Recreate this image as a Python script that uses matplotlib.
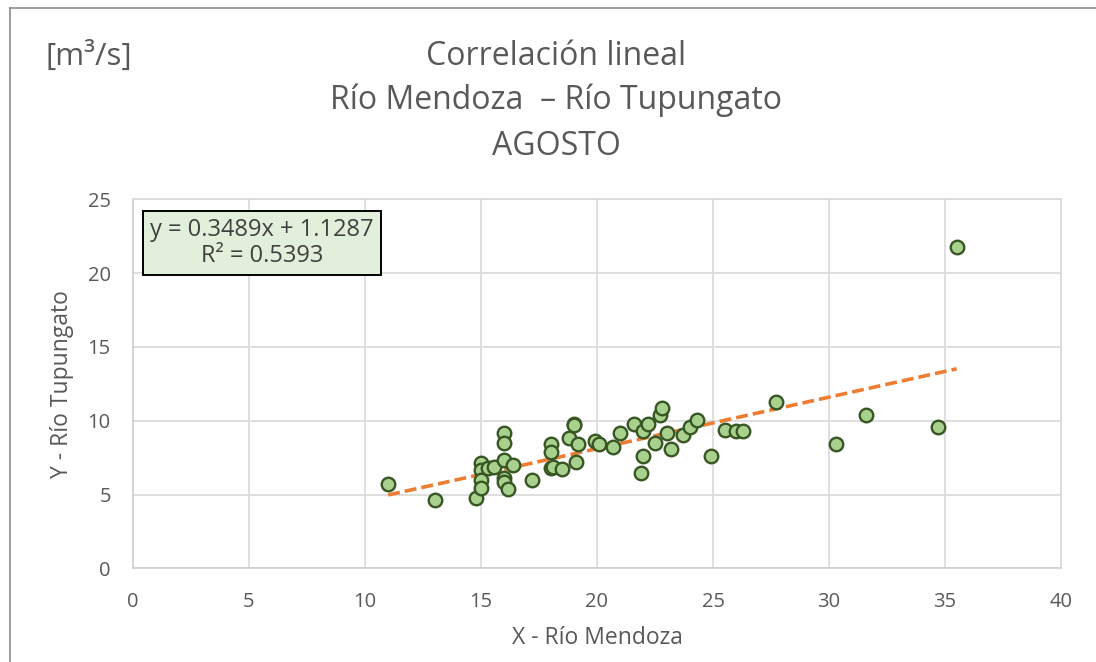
import matplotlib.pyplot as plt
from matplotlib.lines import Line2D

plt.rcParams['font.family'] = ['Open Sans', 'DejaVu Sans']

# caudales de agosto [m3/s]
x_mendoza = [11.0, 13.0, 14.8, 15.0, 15.0, 15.0, 15.0, 15.3, 15.55, 16.0,
             16.0, 16.0, 16.4, 16.0, 16.0, 16.15, 17.2, 18.0, 18.0, 18.0,
             18.1, 18.5, 18.8, 19.0, 19.0, 19.2, 19.1, 19.9, 20.1, 20.7,
             21.0, 21.6, 22.0, 22.2, 22.0, 21.9, 22.5, 22.7, 22.8, 23.0,
             23.2, 23.7, 24.0, 24.3, 24.9, 25.5, 26.0, 26.3, 27.7, 30.3,
             31.6, 34.7, 35.5]
y_tupungato = [5.7, 4.6, 4.75, 7.15, 6.65, 6.0, 5.45, 6.8, 6.85, 9.2,
               8.5, 7.35, 7.0, 6.15, 5.85, 5.35, 6.0, 8.45, 7.9, 6.8,
               6.85, 6.7, 8.8, 9.8, 9.7, 8.4, 7.2, 8.6, 8.45, 8.25,
               9.2, 9.8, 9.3, 9.8, 7.6, 6.45, 8.5, 10.4, 10.85, 9.15,
               8.1, 9.0, 9.55, 10.05, 7.6, 9.4, 9.3, 9.3, 11.3, 8.45,
               10.4, 9.6, 21.8]

# recta de ajuste
slope = 0.3489
intercept = 1.1287
r2 = 0.5393

x_ticks = [0, 5, 10, 15, 20, 25, 30, 35, 40]
y_ticks = [0, 5, 10, 15, 20, 25]

gray = '#595959'
grid = '#d9d9d9'

fig = plt.figure(figsize=(10.96, 6.62), dpi=100)
ax = fig.add_axes([133 / 1096, 1 - 568.3 / 662, 928 / 1096, 369 / 662])

ax.set_xlim(0, 40)
ax.set_ylim(0, 25)
ax.set_xticks(x_ticks)
ax.set_yticks(y_ticks)
ax.grid(True, color=grid, linewidth=1.2)
ax.set_axisbelow(True)
for s in ax.spines.values():
    s.set_color(grid)
    s.set_linewidth(1.2)
ax.spines['bottom'].set_color('#cfcfcf')
ax.spines['left'].set_color('#cfcfcf')
ax.tick_params(length=0, labelsize=14.5, labelcolor=gray)
ax.tick_params(axis='x', pad=17)
ax.tick_params(axis='y', pad=16)

xs = [min(x_mendoza), max(x_mendoza)]
ys = [slope * v + intercept for v in xs]
ax.plot(xs, ys, color='#ed7d31', linewidth=2.6, linestyle=(0, (3.3, 1.4)),
        dash_capstyle='butt', zorder=2)

ax.scatter(x_mendoza, y_tupungato, s=95, facecolor='#a9d18e',
           edgecolor='#375623', linewidth=1.7, zorder=3)

ax.set_xlabel('X - Río Mendoza', fontsize=16.5, color=gray, va='center')
ax.set_ylabel('Y - Río Tupungato', fontsize=16.5, color=gray, va='center')
ax.xaxis.set_label_coords(0.5, (568.3 - 638) / 369)
ax.yaxis.set_label_coords((62 - 133) / 928, 0.5)

eq = 'y = %.4fx + %.4f\nR² = %.4f' % (slope, intercept, r2)
ax.text((262 - 133) / 928, (568.3 - 243) / 369, eq,
        transform=ax.transAxes, ha='center', va='center', fontsize=17,
        color='#404040', linespacing=1.15,
        bbox=dict(boxstyle='square,pad=0.3', facecolor='#e2efda',
                  edgecolor='black', linewidth=1.4))

tc = 556 / 1096
fig.text(tc, 1 - 65 / 662, 'Correlación lineal', ha='center', va='baseline',
         fontsize=23, color=gray)
fig.text(tc, 1 - 109 / 662, 'Río Mendoza  – Río Tupungato', ha='center',
         va='baseline', fontsize=23, color=gray)
fig.text(tc, 1 - 155 / 662, 'AGOSTO', ha='center', va='baseline',
         fontsize=23, color=gray)
fig.text(45 / 1096, 1 - 65 / 662, '[m³/s]', ha='left', va='baseline',
         fontsize=22.5, color=gray)

# borde del grafico
fig.add_artist(Line2D([10 / 1096, 10 / 1096], [0, 1 - 8 / 662],
                      transform=fig.transFigure, color='#8c8c8c', linewidth=1.2))
fig.add_artist(Line2D([10 / 1096, 1], [1 - 8 / 662, 1 - 8 / 662],
                      transform=fig.transFigure, color='#8c8c8c', linewidth=1.2))

plt.savefig('out.png', dpi=100)
